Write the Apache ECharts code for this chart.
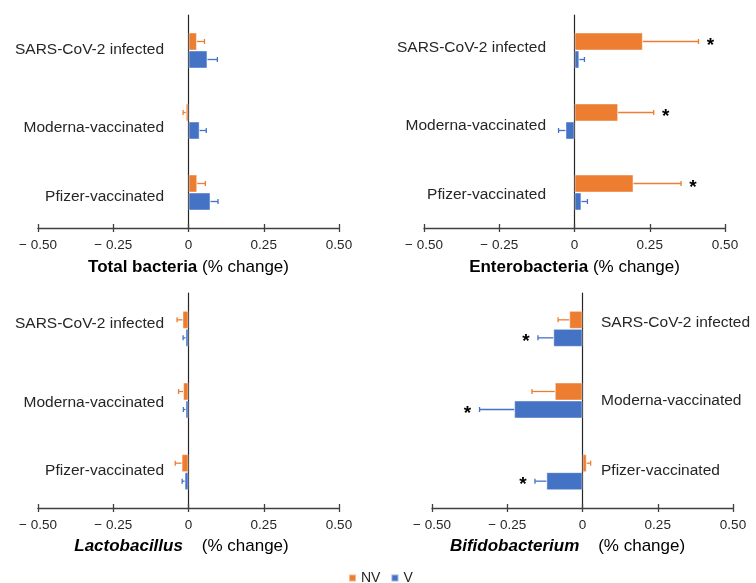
<!DOCTYPE html>
<html><head><meta charset="utf-8">
<script src="https://cdn.jsdelivr.net/npm/echarts@6/dist/echarts.min.js"></script>
<style>html,body{margin:0;padding:0;background:#fff}#c{width:756px;height:583px}</style>
</head><body><div id="c"></div>
<script>
// ---------- data ----------
const categories = ['SARS-CoV-2 infected', 'Moderna-vaccinated', 'Pfizer-vaccinated'];
const xTicks = [-0.5, -0.25, 0, 0.25, 0.5];
const tickLabels = ['\u2212 0.50', '\u2212 0.25', '0', '0.25', '0.50'];
const seriesNames = ['NV', 'V'];

// Total bacteria
const totalNV = [0.028, -0.009, 0.029];
const totalNVErr = [0.025, 0.009, 0.027];
const totalV = [0.063, 0.037, 0.073];
const totalVErr = [0.033, 0.022, 0.025];
const totalNVSig = [0, 0, 0];
const totalVSig = [0, 0, 0];

// Enterobacteria
const enteroNV = [0.227, 0.145, 0.196];
const enteroNVErr = [0.185, 0.118, 0.158];
const enteroV = [0.016, -0.030, 0.023];
const enteroVErr = [0.017, 0.023, 0.020];
const enteroNVSig = [1, 1, 1];
const enteroVSig = [0, 0, 0];

// Lactobacillus
const lactoNV = [-0.020, -0.018, -0.023];
const lactoNVErr = [0.018, 0.015, 0.021];
const lactoV = [-0.010, -0.010, -0.013];
const lactoVErr = [0.008, 0.007, 0.008];
const lactoNVSig = [0, 0, 0];
const lactoVSig = [0, 0, 0];

// Bifidobacterium
const bifidoNV = [-0.044, -0.092, 0.014];
const bifidoNVErr = [0.037, 0.076, 0.013];
const bifidoV = [-0.097, -0.227, -0.120];
const bifidoVErr = [0.051, 0.115, 0.038];
const bifidoNVSig = [0, 0, 0];
const bifidoVSig = [1, 1, 1];

// ---------- chart ----------
const FONT = '"Liberation Sans", Arial, sans-serif';
const ORANGE = '#ED7D31', BLUE = '#4472C4';
const TXT = '#262626';
const BAR_W = 18;

const panels = [
  { grid: { left: 38, top: 15, width: 301, height: 213 }, title: '{b|Total bacteria} (% change)', pad: [0, 0, 0, 0], gap: 31,
    side: 'left', margin: -126, shift: [-0.5, 6, 4], nv: totalNV, nvErr: totalNVErr, v: totalV, vErr: totalVErr, nvSig: totalNVSig, vSig: totalVSig },
  { grid: { left: 424, top: 15, width: 301, height: 213 }, title: '{b|Enterobacteria} (% change)', pad: [0, 0, 0, 0], gap: 31,
    side: 'left', margin: -122, shift: [-3, 4.5, 2], nv: enteroNV, nvErr: enteroNVErr, v: enteroV, vErr: enteroVErr, nvSig: enteroNVSig, vSig: enteroVSig },
  { grid: { left: 38, top: 293, width: 301, height: 215 }, title: '{bi|Lactobacillus}    (% change)', pad: [0, 14, 0, 0], gap: 30,
    side: 'left', margin: -126, shift: [-5, 2, -1], nv: lactoNV, nvErr: lactoNVErr, v: lactoV, vErr: lactoVErr, nvSig: lactoNVSig, vSig: lactoVSig },
  { grid: { left: 432, top: 293, width: 301, height: 215 }, title: '{bi|Bifidobacterium}    (% change)', pad: [0, 30, 0, 0], gap: 30,
    side: 'right', margin: -132, shift: [-6, 0, -1.5], nv: bifidoNV, nvErr: bifidoNVErr, v: bifidoV, vErr: bifidoVErr, nvSig: bifidoNVSig, vSig: bifidoVSig }
];

function tickFmt(v) {
  const i = xTicks.findIndex(t => Math.abs(t - v) < 1e-9);
  return i >= 0 ? tickLabels[i] : '';
}

function errRender(dir, color) {
  return function (params, api) {
    const val = api.value(0), cat = api.value(1), err = api.value(2);
    const end = val + (val >= 0 ? err : -err);
    const p0 = api.coord([val, cat]);
    const p1 = api.coord([end, cat]);
    const y = p0[1] + dir * BAR_W / 2;
    const st = { stroke: color, lineWidth: 1.3 };
    return { type: 'group', children: [
      { type: 'line', shape: { x1: p0[0], y1: y, x2: p1[0], y2: y }, style: st },
      { type: 'line', shape: { x1: p1[0], y1: y - 2.5, x2: p1[0], y2: y + 2.5 }, style: st }
    ]};
  };
}

function starRender(params, api) {
  const val = api.value(0), cat = api.value(1), err = api.value(2), dir = api.value(3);
  const end = val + (val >= 0 ? err : -err);
  const p0 = api.coord([val, cat]);
  const p1 = api.coord([end, cat]);
  const y = p0[1] + dir * BAR_W / 2;
  const x = p1[0] + (end >= 0 ? 12 : -12);
  return { type: 'text', x: x, y: y + 4, style: { text: '*', fill: '#000', fontSize: 19, fontWeight: 'bold', fontFamily: FONT, align: 'center', verticalAlign: 'middle' } };
}

const grid = [], xAxis = [], yAxis = [], series = [];
panels.forEach((p, i) => {
  grid.push(Object.assign({ containLabel: false, outerBoundsMode: 'none' }, p.grid));
  xAxis.push({
    type: 'value', gridIndex: i, min: -0.5, max: 0.5, interval: 0.25, position: 'bottom',
    axisLine: { show: true, onZero: false, lineStyle: { color: '#404040', width: 1.3 } },
    axisTick: { show: true, length: 4, lineStyle: { color: '#404040', width: 1.3 } },
    axisLabel: { formatter: tickFmt, fontSize: 13.5, color: TXT, margin: 10, fontFamily: FONT },
    splitLine: { show: false },
    name: p.title, nameLocation: 'middle', nameGap: p.gap,
    nameTextStyle: { fontSize: 17, color: '#000', fontFamily: FONT, padding: p.pad,
      rich: { b: { fontSize: 17, fontWeight: 'bold', color: '#000', fontFamily: FONT },
              bi: { fontSize: 17, fontWeight: 'bold', fontStyle: 'italic', color: '#000', fontFamily: FONT } } }
  });
  xAxis.push({
    type: 'value', gridIndex: i, min: -0.5, max: 0.5, interval: 0.25, position: 'bottom',
    axisLine: { show: false }, axisLabel: { show: false }, splitLine: { show: false },
    axisTick: { show: true, inside: true, length: 4, lineStyle: { color: '#404040', width: 1.3 } }
  });
  const rich = {};
  p.shift.forEach((s, k) => {
    rich['c' + k] = { fontSize: 15.5, color: TXT, fontFamily: FONT,
      padding: s >= 0 ? [2 * s, 0, 0, 0] : [0, 0, -2 * s, 0] };
  });
  yAxis.push({
    type: 'category', gridIndex: i, data: categories, inverse: true, position: p.side,
    axisLine: { show: true, onZero: true, lineStyle: { color: '#262626', width: 1.2 } },
    axisTick: { show: false },
    axisLabel: { fontSize: 15.5, color: TXT, margin: p.margin, fontFamily: FONT,
      formatter: (v, idx) => '{c' + idx + '|' + v + '}', rich: rich },
    splitLine: { show: false }
  });
  const xi = i * 2;
  [[p.nv, ORANGE, 'NV'], [p.v, BLUE, 'V']].forEach(([d, c, n]) => {
    series.push({
      type: 'bar', name: n, xAxisIndex: xi, yAxisIndex: i, data: d, barWidth: BAR_W, barGap: '0%',
      itemStyle: { color: c, borderColor: 'rgba(255,255,255,0.45)', borderWidth: 1 }, z: 2
    });
  });
  [[p.nv, p.nvErr, -1, ORANGE], [p.v, p.vErr, 1, BLUE]].forEach(([d, e, dir, c]) => {
    series.push({
      type: 'custom', name: 'err', xAxisIndex: xi, yAxisIndex: i, renderItem: errRender(dir, c),
      data: d.map((v, k) => [v, k, e[k]]), z: 3, silent: true
    });
  });
  const stars = [];
  p.nv.forEach((v, k) => { if (p.nvSig[k]) stars.push([v, k, p.nvErr[k], -1]); });
  p.v.forEach((v, k) => { if (p.vSig[k]) stars.push([v, k, p.vErr[k], 1]); });
  if (stars.length) {
    series.push({ type: 'custom', name: 'sig', xAxisIndex: xi, yAxisIndex: i, renderItem: starRender, data: stars, z: 4, silent: true });
  }
});

const chart = echarts.init(document.getElementById('c'), null, { renderer: 'canvas' });
chart.setOption({
  animation: false,
  backgroundColor: '#fff',
  grid: grid, xAxis: xAxis, yAxis: yAxis, series: series,
  legend: {
    data: seriesNames, left: 343, top: 566, icon: 'rect', itemWidth: 7, itemHeight: 7, itemGap: 10,
    textStyle: { fontSize: 14, color: TXT, fontFamily: FONT }
  }
});
</script></body></html>
